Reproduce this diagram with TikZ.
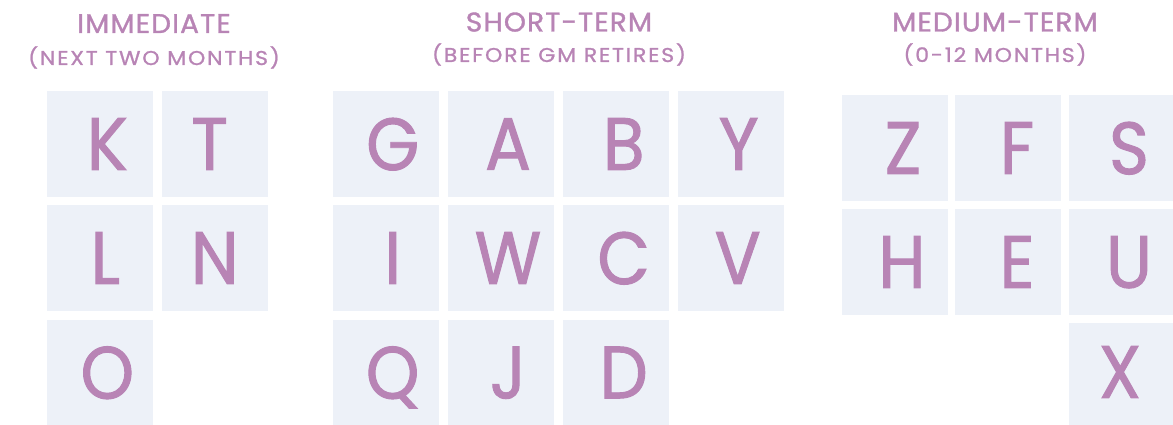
\documentclass[tikz,border=0pt]{standalone}
\usepackage{fontspec}
\setmainfont{Poppins}
\newfontfamily\tilefont[FakeStretch=0.92,FakeBold=1.3]{Poppins}
\newfontfamily\titlefont[FakeStretch=1.04,LetterSpace=4,FakeBold=1.2]{Poppins}
\newfontfamily\subfont[FakeStretch=1.1,LetterSpace=9,FakeBold=1.1]{Poppins}
\definecolor{lettercol}{HTML}{B884B5}
\definecolor{boxcol}{HTML}{EDF1F8}
\tikzset{
  tile/.style={fill=boxcol, draw=none, minimum width=106pt, minimum height=106pt, inner sep=0pt},
  glyph/.style={text=lettercol, inner sep=0pt, text depth=0pt, font=\tilefont\fontsize{74}{74}\selectfont},
  headtitle/.style={text=lettercol, anchor=base, inner sep=0pt, font=\titlefont\fontsize{27}{27}\selectfont},
  headsub/.style={text=lettercol, anchor=base, inner sep=0pt, font=\subfont\fontsize{20}{20}\selectfont},
}
% \tileat{name}{x}{y}{letter x offset}{letter}
\newcommand\tileat[5]{%
  \node[tile] (#1) at (#2,#3) {};
  \node[glyph] (#1l) at ([xshift=#4pt]#1.center) {#5};}
\begin{document}
\begin{tikzpicture}[x=1pt,y=-1pt]
\useasboundingbox (0,0) rectangle (1173,425);
% headings
\node[headtitle] (h1) at (154,33) {IMMEDIATE};
\node[headsub] (s1) at (154,65) {(NEXT TWO MONTHS)};
\node[headtitle] (h2) at (559,31.5) {SHORT-TERM};
\node[headsub] (s2) at (559,62) {(BEFORE GM RETIRES)};
\node[headtitle] (h3) at (995,31.5) {MEDIUM-TERM};
\node[headsub] (s3) at (995,62) {(0-12 MONTHS)};
% immediate
\tileat{K}{100.3}{144}{7}{K}
\tileat{T}{214.7}{144}{-5}{T}
\tileat{L}{100.3}{258}{5}{L}
\tileat{N}{214.7}{258}{0}{N}
\tileat{O}{100.3}{372.5}{7}{O}
% short-term
\tileat{G}{385.7}{144}{7}{G}
\tileat{A}{501}{144}{7}{A}
\tileat{B}{615.7}{144}{8}{B}
\tileat{Y}{730.7}{144}{8}{Y}
\tileat{I}{385.7}{258}{7}{I}
\tileat{W}{501}{258}{7}{W}
\tileat{C}{615.7}{258}{8}{C}
\tileat{V}{730.7}{258}{7}{V}
\tileat{Q}{385.7}{372.5}{7}{Q}
\tileat{J}{501}{372.5}{7}{J}
\tileat{D}{615.7}{372.5}{8}{D}
% medium-term
\tileat{Z}{895}{148}{8}{Z}
\tileat{F}{1008}{148}{9}{F}
\node[tile, minimum width=104pt] (S) at (1121,148) {};
\node[glyph] (Sl) at ([xshift=8pt]S.center) {S};
\tileat{H}{895}{262}{7}{H}
\tileat{E}{1008}{262}{9}{E}
\node[tile, minimum width=104pt] (U) at (1121,262) {};
\node[glyph] (Ul) at ([xshift=8pt]U.center) {U};
\node[tile, minimum width=104pt, minimum height=102pt] (X) at (1121,374) {};
\node[glyph] (Xl) at ([xshift=-1pt,yshift=2pt]X.center) {X};
\end{tikzpicture}
\end{document}
